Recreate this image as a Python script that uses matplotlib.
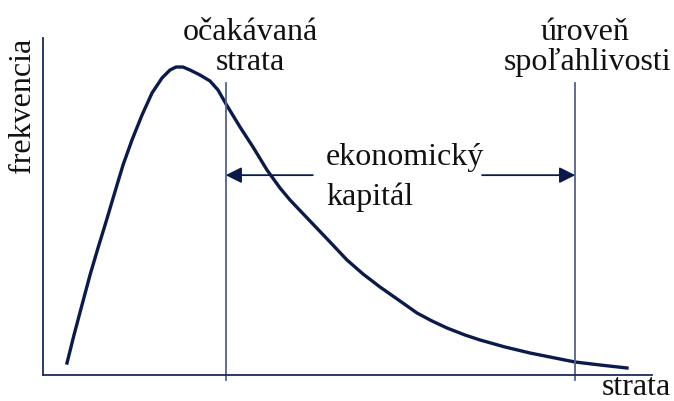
import matplotlib
matplotlib.use("Agg")
import matplotlib.pyplot as plt

# Kurva: strata (x) och frekvens (y), relativa enheter 0-100
strata = [3.94, 5.09, 6.40, 7.72, 9.03, 10.34, 11.66, 13.14, 14.61, 16.26,
          17.90, 19.54, 20.85, 21.84, 22.99, 24.14, 25.78, 27.42, 28.74, 30.05,
          32.35, 34.48, 36.78, 38.92, 40.56, 43.84, 47.13, 49.92, 52.55, 55.34,
          58.62, 61.41, 63.88, 66.34, 69.29, 71.76, 75.86, 79.97, 84.07, 87.36,
          91.46, 95.89]
frekvencia = [3.56, 11.87, 20.77, 29.67, 37.69, 45.40, 53.41, 62.31, 69.73,
              77.15, 83.68, 88.13, 90.50, 91.39, 91.39, 90.50, 89.02, 87.24,
              84.57, 80.42, 73.59, 67.66, 60.83, 55.49, 51.93, 45.70, 39.47,
              34.12, 29.97, 26.11, 21.96, 18.40, 16.02, 13.95, 11.87, 10.39,
              8.31, 6.53, 5.04, 3.86, 2.97, 2.08]

ocakavana_strata = 30.0
uroven_spolahlivosti = 87.4
vyska_ciar = 86.6
vyska_sipky = 59.3

navy = "#0b1a4d"
slate = "#56608a"
serif = ["Liberation Serif", "DejaVu Serif"]

fig = plt.figure(figsize=(6.74, 4.01), dpi=100)
ax = fig.add_axes([43 / 674, 26 / 401, 609 / 674, 337 / 401])
ax.set_xlim(0, 100)
ax.set_ylim(0, 100)

ax.plot(strata, frekvencia, color=navy, lw=2.4, solid_joinstyle="round")

# Vertikala linjer
for xv in [ocakavana_strata, uroven_spolahlivosti]:
    ax.plot([xv, xv], [-1.5, vyska_ciar], color=slate, lw=1.3, clip_on=False)

# Pilar för ekonomiskt kapital
pil = dict(arrowstyle="-|>,head_length=0.8,head_width=0.4", color=navy,
           lw=1.3, mutation_scale=12, shrinkA=0, shrinkB=0)
ax.annotate("", xy=(ocakavana_strata, vyska_sipky), xytext=(44.3, vyska_sipky),
            arrowprops=pil)
ax.annotate("", xy=(uroven_spolahlivosti, vyska_sipky), xytext=(72.1, vyska_sipky),
            arrowprops=pil)

for s in ["top", "right"]:
    ax.spines[s].set_visible(False)
for s in ["left", "bottom"]:
    ax.spines[s].set_color("#1e2a5a")
    ax.spines[s].set_linewidth(1.3)
ax.set_xticks([])
ax.set_yticks([])

fs = 23
txt = dict(family=serif, fontsize=fs, color="#111111")
ax.text(34.0, 99.4, "očakávaná", ha="center", va="baseline", **txt)
ax.text(34.0, 90.5, "strata", ha="center", va="baseline", **txt)
ax.text(89.0, 99.4, "úroveň", ha="center", va="baseline", **txt)
ax.text(89.5, 90.5, "spoľahlivosti", ha="center", va="baseline", **txt)
ax.text(46.5, 62.3, "ekonomický", ha="left", va="baseline", **txt)
ax.text(46.5, 50.5, "kapitál", ha="left", va="baseline", **txt)
ax.text(103.2, -6.0, "strata", ha="right", va="baseline", **txt)
ax.text(-1.0, 100.0, "frekvencia", ha="right", va="top", rotation=90, **txt)

fig.savefig("out.png", dpi=100)
